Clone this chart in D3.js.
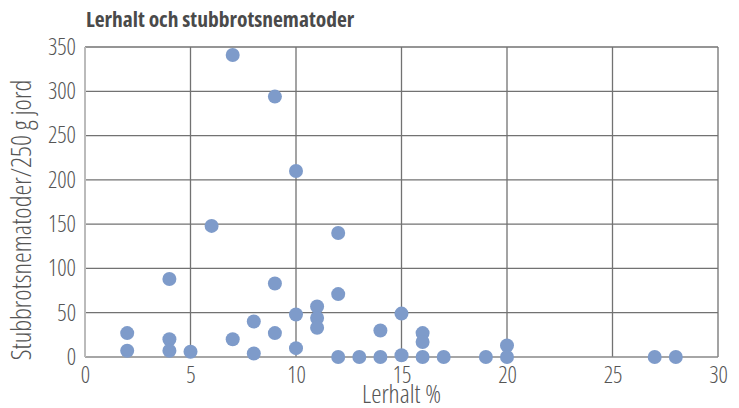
<!doctype html>
<html lang="sv">
<head>
  <meta charset="utf-8">
  <title>Lerhalt och stubbrotsnematoder</title>
  <script src="https://d3js.org/d3.v7.min.js"></script>
  <style>
    body { margin: 0; background: #fff; }
    svg text {
      font-family: "Open Sans", sans-serif;
      font-stretch: 75%;
      font-weight: 300;
      fill: #555;
    }
    .title { font-weight: 700; fill: #4a4a4a; }
  </style>
</head>
<body>
  <div id="chart"></div>
  <script>
// clay content (%) and nematodes per 250 g soil
const lerhalt = [2, 2, 4, 4, 4, 5, 6, 7, 7, 8, 8, 9, 9, 9, 10, 10, 10, 11, 11, 11,
  12, 12, 12, 13, 14, 14, 15, 15, 16, 16, 16, 17, 19, 20, 20, 27, 28];
const nematoder = [27, 7, 88, 20, 7, 6, 148, 341, 20, 40, 4, 294, 83, 27, 210, 48, 10, 57, 44, 33,
  140, 71, 0, 0, 0, 30, 49, 2, 27, 17, 0, 0, 0, 13, 0, 0, 0];
const xTicks = [0, 5, 10, 15, 20, 25, 30];
const yTicks = [0, 50, 100, 150, 200, 250, 300, 350];

const width = 739, height = 408;
const margin = { top: 47, right: 21, bottom: 51, left: 85 };

const svg = d3.select('#chart').append('svg')
  .attr('width', width)
  .attr('height', height);

const x = d3.scaleLinear().domain([0, 30]).range([margin.left, width - margin.right]);
const y = d3.scaleLinear().domain([0, 350]).range([height - margin.bottom, margin.top]);

// grid
svg.append('g')
  .selectAll('line')
  .data(xTicks.slice(1))
  .join('line')
  .attr('x1', d => x(d)).attr('x2', d => x(d))
  .attr('y1', y(0)).attr('y2', y(350))
  .attr('stroke', '#727272').attr('stroke-width', 1.3);

svg.append('g')
  .selectAll('line')
  .data(yTicks.slice(1))
  .join('line')
  .attr('x1', x(0)).attr('x2', x(30))
  .attr('y1', d => y(d)).attr('y2', d => y(d))
  .attr('stroke', '#727272').attr('stroke-width', 1.3);

// x axis line
svg.append('line')
  .attr('x1', x(0)).attr('x2', x(30))
  .attr('y1', y(0)).attr('y2', y(0))
  .attr('stroke', '#888').attr('stroke-width', 1.5);

// y axis line (lighter)
svg.append('line')
  .attr('x1', x(0)).attr('x2', x(0))
  .attr('y1', y(0)).attr('y2', y(350))
  .attr('stroke', '#bbb').attr('stroke-width', 2);

// axes, labels only
const xAxis = svg.append('g')
  .attr('transform', `translate(0,${y(0)})`)
  .call(d3.axisBottom(x).tickValues(xTicks).tickSize(0).tickPadding(0));
xAxis.select('.domain').remove();
xAxis.selectAll('text').attr('font-size', 23).attr('dy', '1.12em');

const yAxis = svg.append('g')
  .attr('transform', `translate(${x(0)},0)`)
  .call(d3.axisLeft(y).tickValues(yTicks).tickSize(0).tickPadding(9));
yAxis.select('.domain').remove();
yAxis.selectAll('text').attr('font-size', 23);

// points
svg.append('g')
  .selectAll('circle')
  .data(lerhalt)
  .join('circle')
  .attr('cx', d => x(d))
  .attr('cy', (d, i) => y(nematoder[i]))
  .attr('r', 7)
  .attr('fill', '#7e9bca');

// titles
svg.append('text')
  .attr('class', 'title')
  .attr('x', 86).attr('y', 27)
  .attr('font-size', 21.5)
  .text('Lerhalt och stubbrotsnematoder');

svg.append('text')
  .attr('x', (x(0) + x(30)) / 2).attr('y', 403)
  .attr('text-anchor', 'middle')
  .attr('font-size', 26)
  .text('Lerhalt %');

svg.append('text')
  .attr('transform', `translate(31,220) rotate(-90)`)
  .attr('text-anchor', 'middle')
  .attr('font-size', 27)
  .text('Stubbrotsnematoder/250 g jord');
  </script>
</body>
</html>
